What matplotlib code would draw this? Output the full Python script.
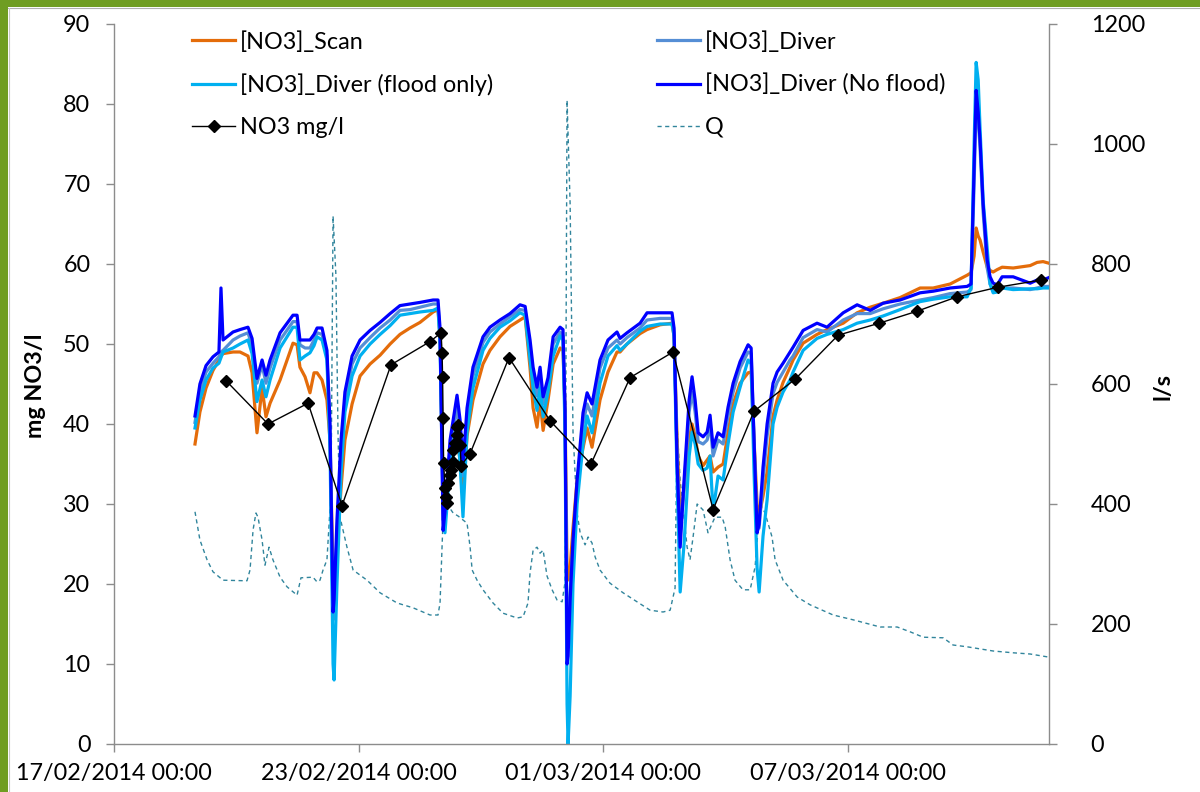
import matplotlib
matplotlib.use("Agg")
import matplotlib.pyplot as plt
import matplotlib.dates as mdates
from matplotlib.patches import Rectangle
import pandas as pd

plt.rcParams['font.family'] = ['Lato', 'DejaVu Sans']

START = pd.Timestamp('2014-02-17 00:00')

# ---- probe series (hours since 17/02/2014 00:00) ----
probe_hours = [
    47.7, 50.6, 54.2, 58.3, 61.8, 63.0, 64.2, 70.1, 74.2, 78.9, 81.3, 84.2, 87.2, 89.5, 91.9,
    97.8, 105.4, 107.8, 109.5, 112.5, 115.4, 117.8, 119.6, 122.5, 125.4, 127.2, 129.0, 129.6,
    131.3, 133.7, 136.0, 140.2, 144.9, 150.8, 156.7, 162.6, 168.4, 174.3, 180.2, 187.9, 190.8,
    192.0, 193.8, 194.9, 197.9, 202.0, 203.8, 205.5, 207.9, 211.4, 217.3, 221.4, 227.3, 233.2,
    239.1, 242.1, 245.0, 246.8, 249.1, 250.9, 252.7, 255.6, 258.6, 262.7, 264.4, 265.6, 266.8,
    267.4, 268.6, 270.3, 272.7, 276.2, 278.6, 281.5, 286.2, 290.9, 296.2, 298.0, 302.1, 309.8,
    313.9, 321.6, 328.6, 329.8, 331.6, 333.4, 335.7, 338.7, 340.4, 342.2, 344.0, 346.9, 349.3,
    351.0, 352.8, 355.7, 358.7, 361.6, 364.6, 368.7, 373.4, 375.2, 376.9, 378.7, 379.9, 382.2,
    384.6, 388.1, 390.5, 394.0, 398.1, 399.9, 405.8, 414.0, 419.9, 429.4, 437.6, 445.3, 452.9,
    462.9, 474.7, 482.4, 492.4, 502.4, 504.7, 506.5, 507.7, 508.9, 510.0, 511.8, 514.2, 515.9,
    517.7, 520.1, 523.0, 529.5, 539.5, 543.6, 547.1, 550.5,
]

no3_scan = [
    37.5, 41.5, 44.5, 46.7, 48.0, 48.5, 48.8, 49.0, 49.0, 48.5, 46.4, 38.9, 44.5, 40.9, 42.6,
    45.5, 50.1, 49.9, 47.1, 45.9, 43.9, 46.4, 46.4, 45.5, 43.0, 38.0, 21.0, 20.0,
    24.0, 32.0, 38.0, 42.5, 46.0, 47.5, 48.6, 50.0, 51.2, 52.0, 52.7, 54.0, 54.3,
    51.0, 32.0, 30.0, 35.0, 38.0, 35.5, 31.0, 38.5, 43.0, 47.5, 49.2, 50.9, 52.2,
    53.0, 53.4, 47.0, 42.0, 39.6, 43.0, 39.2, 43.0, 47.5, 49.5, 49.2, 42.0, 22.0,
    20.5, 22.0, 27.0, 33.0, 37.0, 39.5, 37.1, 43.0, 46.5, 49.0, 49.0, 50.0, 51.3,
    51.8, 52.4, 52.6, 51.0, 38.0, 28.0, 32.0, 38.0, 40.0, 38.5, 36.0, 34.8, 35.5,
    36.0, 34.0, 34.6, 35.0, 39.0, 42.5, 45.1, 46.4, 46.5, 38.0, 30.0, 28.5, 31.0,
    34.0, 41.0, 43.0, 45.2, 47.1, 48.0, 50.1, 51.2, 51.8, 52.6, 53.9, 54.6, 55.1,
    55.8, 57.0, 57.0, 57.5, 58.6, 58.9, 61.0, 64.5, 63.5, 63.0, 61.5, 59.6, 59.2,
    59.0, 59.3, 59.6, 59.5, 59.8, 60.2, 60.3, 60.1,
]

no3_diver = [
    40.2, 44.0, 46.5, 47.6, 48.4, 49.0, 49.2, 50.5, 51.0, 51.4, 49.8, 45.1, 47.4, 45.1, 47.0,
    50.5, 52.8, 52.8, 49.9, 49.5, 49.5, 50.5, 51.4, 51.2, 48.5, 39.0, 15.5, 16.5,
    26.0, 36.5, 43.0, 47.5, 49.5, 50.8, 52.0, 53.0, 54.2, 54.3, 54.6, 55.0, 55.0,
    51.0, 28.0, 28.5, 37.0, 42.0, 39.0, 33.5, 41.0, 46.0, 50.2, 51.5, 52.5, 53.4,
    54.3, 54.2, 49.5, 46.0, 43.5, 46.0, 42.5, 45.0, 50.0, 51.5, 51.0, 41.0, 13.0,
    13.5, 19.0, 25.0, 32.0, 40.0, 42.5, 41.0, 47.0, 49.5, 50.5, 50.0, 50.8, 52.0,
    53.0, 53.2, 53.2, 51.5, 36.0, 26.0, 32.0, 41.5, 44.0, 41.5, 37.8, 37.5, 38.0,
    40.0, 36.0, 38.0, 37.5, 41.0, 44.0, 47.0, 49.0, 48.8, 38.0, 27.0, 27.0, 33.0,
    38.5, 43.8, 45.2, 46.5, 48.0, 48.5, 50.8, 51.8, 51.5, 53.0, 53.8, 53.8, 54.4,
    55.0, 55.5, 55.8, 56.3, 56.5, 56.8, 70.0, 80.0, 78.0, 74.5, 66.5, 59.5, 57.5,
    56.8, 56.6, 57.0, 57.0, 56.8, 57.0, 57.2, 57.2,
]

no3_diver_flood = [
    39.5, 43.0, 45.5, 47.0, 47.6, 48.3, 49.0, 49.5, 50.0, 50.5, 48.8, 42.8, 45.5, 43.4, 45.5,
    49.5, 52.1, 52.1, 48.0, 48.5, 48.9, 49.8, 50.9, 50.5, 48.0, 37.0, 10.0, 8.0,
    20.0, 34.0, 41.5, 46.0, 48.5, 50.0, 51.2, 52.3, 53.6, 53.8, 54.0, 54.2, 54.5,
    50.0, 30.0, 26.4, 35.0, 40.0, 35.0, 28.4, 39.0, 44.5, 49.2, 50.7, 52.1, 52.9,
    53.9, 53.6, 48.0, 44.5, 41.7, 44.5, 40.9, 44.0, 48.5, 51.0, 50.5, 39.0, 5.0,
    0.0, 6.0, 20.0, 30.0, 37.5, 41.0, 38.9, 45.1, 48.5, 49.8, 49.2, 50.0, 51.6,
    52.2, 52.5, 52.5, 51.0, 33.0, 19.0, 25.0, 36.0, 39.0, 37.5, 35.0, 34.2, 34.5,
    36.0, 29.0, 33.5, 33.0, 37.5, 41.5, 44.6, 48.0, 47.5, 34.0, 22.0, 19.0, 26.0,
    30.5, 40.0, 42.1, 44.0, 45.5, 46.5, 49.2, 50.7, 51.2, 51.8, 52.6, 53.0, 53.5,
    54.3, 55.3, 55.6, 55.9, 55.9, 57.0, 75.0, 85.2, 83.0, 77.0, 68.0, 62.0, 57.5,
    56.4, 56.5, 57.0, 56.8, 56.9, 56.9, 57.0, 57.0,
]

no3_diver_noflood = [
    41.0, 45.0, 47.3, 48.4, 49.0, 57.0, 50.5, 51.5, 51.8, 52.1, 50.7, 45.7, 48.0, 46.1, 48.0,
    51.4, 53.6, 53.6, 50.5, 50.5, 50.5, 51.2, 52.0, 52.0, 49.2, 40.0, 16.5, 18.0,
    28.0, 38.0, 44.0, 48.5, 50.5, 51.7, 52.7, 53.8, 54.8, 55.0, 55.2, 55.5, 55.5,
    52.0, 26.7, 29.0, 38.0, 43.6, 40.5, 35.0, 42.0, 47.1, 50.9, 52.1, 53.0, 53.8,
    54.9, 54.7, 50.5, 47.1, 44.6, 47.1, 43.4, 45.8, 50.9, 52.1, 51.8, 42.0, 10.0,
    11.0, 18.0, 25.5, 33.0, 41.4, 43.9, 42.5, 48.0, 50.5, 51.5, 50.7, 51.4, 52.6,
    53.9, 53.9, 53.9, 52.0, 35.0, 24.6, 33.0, 43.0, 45.9, 43.0, 38.9, 38.4, 39.0,
    41.1, 37.1, 38.9, 38.4, 42.1, 45.1, 47.8, 49.9, 49.5, 38.0, 26.4, 27.5, 34.6,
    40.0, 45.1, 46.5, 47.6, 49.0, 49.6, 51.7, 52.6, 52.1, 53.9, 54.9, 54.2, 55.1,
    55.5, 56.4, 56.6, 57.0, 57.2, 57.5, 72.0, 81.7, 79.0, 75.5, 67.5, 60.5, 58.4,
    57.6, 57.4, 58.4, 58.4, 57.6, 58.0, 58.0, 58.3,
]

# ---- lab samples ----
lab_hours = [
    66.0, 90.7, 114.3, 134.3, 163.1, 186.1, 192.6, 193.2, 193.5, 193.8, 194.1, 194.9, 195.5,
    196.1, 196.7, 197.9, 198.5, 199.4, 199.7, 200.9, 201.8, 202.0, 202.6, 203.8, 204.4, 209.7,
    232.6, 256.8, 280.9, 303.9, 329.2, 352.8, 376.9, 401.1, 426.4, 450.6, 472.9, 496.5, 520.6,
    546.0,
]
lab_no3 = [
    45.4, 40.0, 42.6, 29.8, 47.4, 50.3, 51.4, 48.9, 45.9, 40.7, 35.1, 32.0, 30.9,
    30.1, 32.6, 33.6, 34.3, 35.3, 36.8, 37.6, 38.6, 39.6, 39.9, 37.4, 34.8, 36.3,
    48.3, 40.4, 35.0, 45.8, 49.0, 29.3, 41.6, 45.6, 51.1, 52.6, 54.1, 55.9, 57.1,
    58.0,
]

# ---- discharge (l/s) ----
q_hours = [
    47.7, 50.6, 54.8, 58.3, 64.2, 78.3, 80.1, 81.9, 83.6, 84.8, 87.2, 88.9, 91.3, 93.6, 97.8,
    101.9, 107.8, 110.1, 117.2, 119.6, 121.3, 123.1, 125.4, 127.8, 129.0, 130.7, 131.9, 133.1,
    137.2, 140.8, 149.0, 156.7, 166.7, 176.1, 186.1, 190.8, 192.0, 193.2, 194.4, 196.1, 199.7,
    202.6, 207.9, 209.7, 210.9, 213.8, 217.3, 223.2, 229.1, 237.4, 240.9, 243.8, 245.0, 246.8,
    249.1, 250.9, 252.7, 255.0, 258.0, 260.9, 263.9, 265.6, 266.8, 268.6, 270.3, 272.7, 274.5,
    277.4, 279.2, 281.5, 283.3, 286.2, 292.1, 299.8, 308.0, 315.7, 323.3, 327.5, 330.4, 331.6,
    333.4, 337.5, 339.2, 341.0, 343.4, 346.9, 349.8, 353.9, 358.1, 359.9, 362.8, 365.7, 370.4,
    374.6, 377.5, 380.5, 383.4, 387.5, 389.3, 394.0, 402.3, 409.9, 423.5, 435.2, 451.2, 461.2,
    468.8, 476.5, 488.3, 494.1, 502.4, 517.7, 529.5, 539.5, 550.1,
]
q_ls = [
    387, 340, 307, 287, 273, 272, 290, 357, 385, 378, 340, 298, 328, 307, 278,
    262, 248, 277, 278, 270, 273, 290, 307, 420, 880, 780, 520, 378,
    328, 290, 273, 252, 235, 227, 215, 215, 235, 330, 420, 400, 385,
    380, 368, 328, 290, 273, 257, 235, 218, 210, 212, 235, 285, 323,
    328, 318, 323, 280, 257, 240, 237, 270, 1073, 900, 520, 385, 352,
    332, 345, 335, 312, 290, 268, 252, 237, 223, 220, 223, 260, 530,
    440, 328, 307, 345, 400, 390, 352, 378, 378, 362, 307, 273, 257,
    257, 295, 400, 385, 345, 307, 273, 245, 232, 215, 207, 195, 195,
    187, 178, 177, 165, 162, 155, 152, 150, 145,
]

x_ticks = ['2014-02-17', '2014-02-23', '2014-03-01', '2014-03-07']
y_ticks_left = list(range(0, 91, 10))
y_ticks_right = list(range(0, 1201, 200))


def to_time(hours):
    return START + pd.to_timedelta(hours, unit='h')


t_probe = to_time(probe_hours)
t_lab = to_time(lab_hours)
t_q = to_time(q_hours)

fig = plt.figure(figsize=(12, 7.92), dpi=100)
W, H = 1200, 792

# slide frame: green bands on top and left edges
green = '#6F9D22'
fig.patches.append(Rectangle((0, 1 - 7 / H), 1, 7 / H, transform=fig.transFigure,
                             facecolor=green, edgecolor='none', zorder=0))
fig.patches.append(Rectangle((0, 0), 8 / W, 1, transform=fig.transFigure,
                             facecolor=green, edgecolor='none', zorder=0))
fig.add_artist(plt.Line2D([8 / W, 1], [1 - 8 / H, 1 - 8 / H], transform=fig.transFigure,
                          color='#B0B0B0', lw=0.8))
fig.add_artist(plt.Line2D([9 / W, 9 / W], [0, 1 - 8 / H], transform=fig.transFigure,
                          color='#C8C8C8', lw=0.8))

ax = fig.add_axes([114 / W, 48 / H, 935 / W, 720 / H])
ax2 = ax.twinx()
ax.set_zorder(ax2.get_zorder() + 1)
ax.patch.set_visible(False)

lw = 2.3
l_scan, = ax.plot(t_probe, no3_scan, color='#E46C0A', lw=lw, label='[NO3]_Scan')
l_div, = ax.plot(t_probe, no3_diver, color='#558ED5', lw=lw, label='[NO3]_Diver')
l_fl, = ax.plot(t_probe, no3_diver_flood, color='#00B0F0', lw=lw,
                label='[NO3]_Diver (flood only)')
l_nf, = ax.plot(t_probe, no3_diver_noflood, color='#0000FF', lw=lw,
                label='[NO3]_Diver (No flood)')
l_lab, = ax.plot(t_lab, lab_no3, color='black', lw=1.0, marker='D', markersize=6,
                 label='NO3 mg/l')
l_q, = ax2.plot(t_q, q_ls, color='#31859C', lw=1.0, linestyle=(0, (3, 2.5)), label='Q')

x0 = START
x1 = START + pd.Timedelta(hours=550.6)
ax.set_xlim(x0, x1)
ax.set_ylim(0, 90)
ax2.set_ylim(0, 1200)
ax.set_yticks(y_ticks_left)
ax2.set_yticks(y_ticks_right)
ax.set_xticks(pd.to_datetime(x_ticks))
ax.xaxis.set_major_formatter(mdates.DateFormatter('%d/%m/%Y %H:%M'))

spine_c = '#8C8C8C'
for a in (ax, ax2):
    for s in a.spines.values():
        s.set_color(spine_c)
        s.set_linewidth(1.0)
    a.spines['top'].set_visible(False)
ax.spines['right'].set_visible(False)
ax2.spines['left'].set_visible(False)
ax2.spines['bottom'].set_visible(False)

fs = 16.8
ax.tick_params(axis='y', length=6, width=1, color=spine_c, labelsize=fs, pad=11)
ax.tick_params(axis='x', length=6, width=1, color=spine_c, labelsize=fs, pad=8)
ax2.yaxis.set_tick_params(which='major', direction='out', length=6, width=1,
                          color=spine_c, labelsize=fs, pad=24)

fig.text(35 / W, 1 - 386 / H, 'mg NO3/l', rotation=90, ha='center', va='center',
         fontsize=fs, fontweight='bold')
fig.text(1163 / W, 1 - 386 / H, 'l/s', rotation=90, ha='center', va='center',
         fontsize=fs, fontweight='bold')

handles = [l_scan, l_fl, l_lab, l_div, l_nf, l_q]
ax.legend(handles=handles, ncol=2, loc='upper left',
          bbox_to_anchor=(192 / W, 1 - 31 / H), bbox_transform=fig.transFigure,
          frameon=False, fontsize=fs, handlelength=1.85, handletextpad=0.22,
          labelspacing=0.9, columnspacing=7.0, borderpad=0, borderaxespad=0)

fig.savefig('out.png', dpi=100)
